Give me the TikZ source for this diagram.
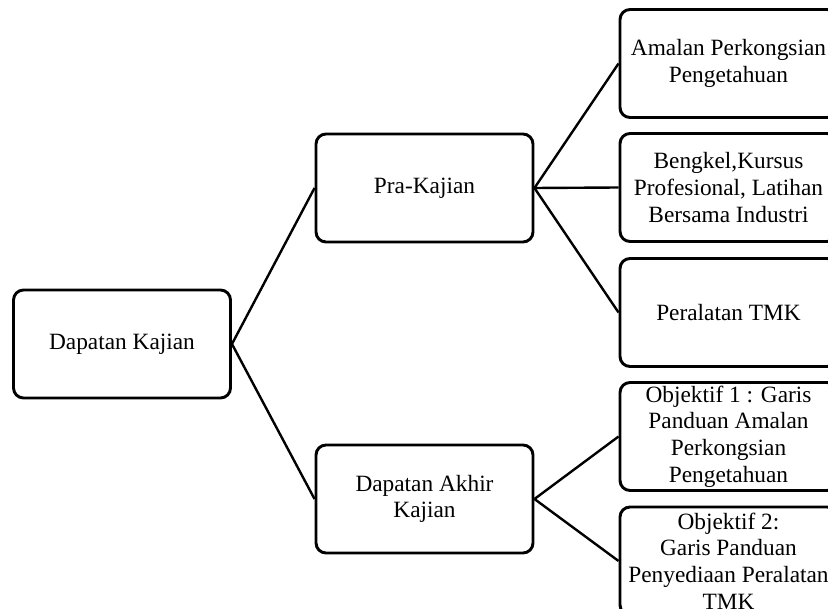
\documentclass[tikz,border=0pt]{standalone}
\usepackage{fontspec}
\setmainfont{Liberation Serif}
\begin{document}
\begin{tikzpicture}[x=0.75pt,y=-0.75pt,
  box/.style={draw=black,line width=2.2pt,rounded corners=7.5pt,
    minimum width=162.75pt,minimum height=81pt,inner sep=1pt,
    align=center,font=\fontsize{17.5}{20}\selectfont},
  link/.style={draw=black,line width=1.8pt}]
\useasboundingbox (0,0) rectangle (828,609);
\clip (0,0) rectangle (828,609);
\node[box] (root) at (122,344) {Dapatan Kajian};
\node[box] (pra) at (424.5,188) {Pra-Kajian};
\node[box] (akhir) at (424.5,499) {Dapatan Akhir\\Kajian};
\node[box] (r1) at (728.5,63.5) {Amalan Perkongsian\\Pengetahuan};
\node[box] (r2) at (728.5,187.5) {Bengkel,Kursus\\Profesional, Latihan\\Bersama Industri};
\node[box] (r3) at (728.5,312.5) {Peralatan TMK};
\node[box] (r4) at (728.5,436.5) {Objektif 1 : Garis\\Panduan Amalan\\Perkongsian\\Pengetahuan};
\node[box] (r5) at (728.5,561) {Objektif 2:\\Garis Panduan\\Penyediaan Peralatan\\TMK};
\draw[link] (root.east) -- (pra.west);
\draw[link] (root.east) -- (akhir.west);
\draw[link] (pra.east) -- (r1.west);
\draw[link] (pra.east) -- (r2.west);
\draw[link] (pra.east) -- (r3.west);
\draw[link] (akhir.east) -- (r4.west);
\draw[link] (akhir.east) -- (r5.west);
\end{tikzpicture}
\end{document}
